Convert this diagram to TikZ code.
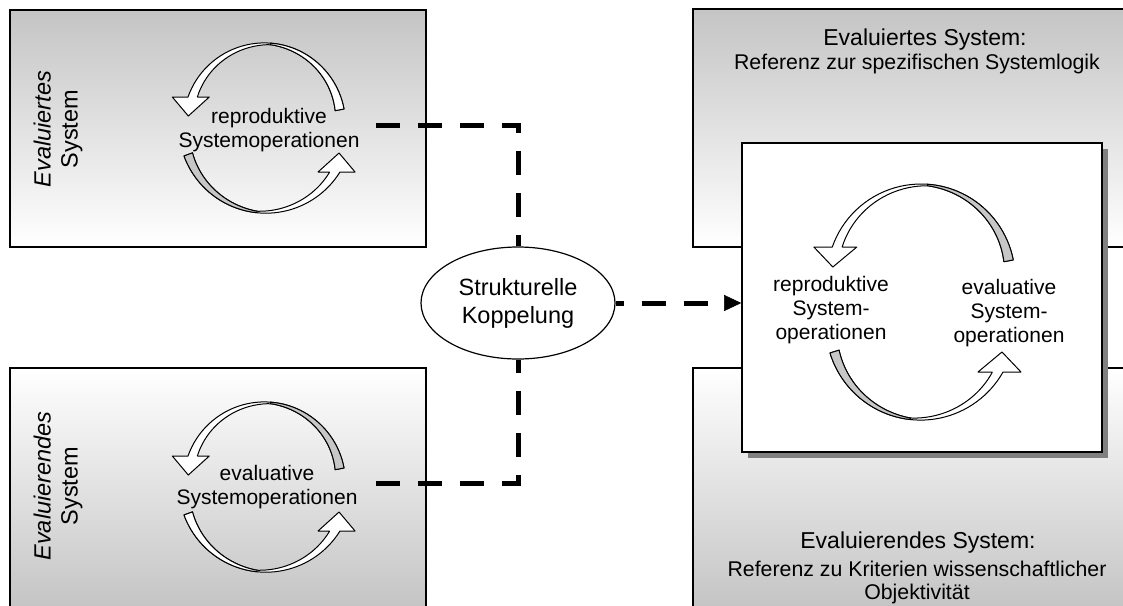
\documentclass[tikz,border=0pt]{standalone}
\usepackage{fontspec}
\setmainfont{Liberation Sans}
\usetikzlibrary{shapes.geometric,arrows.meta,shadows}

\tikzset{
  panel/.style={rectangle, draw=black, line width=1.2pt, inner sep=0pt},
  shadedown/.style={top color=black!23, bottom color=white},
  shadeup/.style={top color=white, bottom color=black!23},
  couple/.style={line width=5pt, dash pattern=on 24pt off 18pt},
  cyclelabel/.style={align=center, font=\fontsize{21}{24}\selectfont, inner sep=0pt},
  sidelabel/.style={align=center, rotate=90, font=\fontsize{23.5}{27}\selectfont, inner sep=0pt},
  titlelabel/.style={inner sep=0pt, font=\fontsize{23}{27}\selectfont},
  sublabel/.style={inner sep=0pt, align=center, font=\fontsize{21.3}{23.5}\selectfont},
  ribbonline/.style={draw=black, line width=1pt, line join=round},
}

% size of the curved block arrows
\def\RBwmax{9}
\def\RBhw{18.5}
\def\RBhl{19}

% curved ribbon arrow:
% #1 cx, #2 cy, #3 outer radius, #4 tail angle, #5 y of the arrowhead base,
% #6 1 = head on the left pointing down, -1 = head on the right pointing up,
% #7 fill of the tail half
\newcommand\ribbon[7]{%
  \pgfmathsetmacro\RBho{-90*(1+(#6))-(#6)*asin(((#5)-(#2))/(#3))}%
  \pgfmathsetmacro\RBhi{-90*(1+(#6))-(#6)*asin(((#5)-(#2))/((#3)-\RBwmax))}%
  \pgfmathsetmacro\RBmid{((#4)+\RBho)/2}%
  \pgfmathsetmacro\RBhalf{abs((#4)-\RBho)/2}%
  \pgfmathsetmacro\RBox{(#1)+(#3)*cos(\RBho)}%
  \pgfmathsetmacro\RBix{(#1)+((#3)-\RBwmax)*cos(\RBhi)}%
  \pgfmathsetmacro\RBbx{(\RBox+\RBix)/2-2*(#6)}%
  \pgfmathsetmacro\RBtx{\RBbx-2.5*(#6)}%
  \pgfmathsetmacro\RBtix{(#1)+((#3)-\RBwmax)*cos(#4)}%
  \pgfmathsetmacro\RBtiy{(#2)+((#3)-\RBwmax)*sin(#4)}%
  % whole arrow, white
  \filldraw[ribbonline, fill=white]
    plot[domain=#4:\RBho, samples=45] ({(#1)+(#3)*cos(\x)},{(#2)+(#3)*sin(\x)})
    -- (\RBox,#5)
    -- ({\RBbx-(#6)*\RBhw},#5) -- (\RBtx,{(#5)+(#6)*\RBhl}) -- ({\RBbx+(#6)*\RBhw},#5)
    -- (\RBix,#5)
    -- plot[domain=\RBhi:#4, samples=45]
       ({(#1)+((#3)-1.5-(\RBwmax-1.5)*min(abs(\x-\RBmid)/\RBhalf,1))*cos(\x)},
        {(#2)+((#3)-1.5-(\RBwmax-1.5)*min(abs(\x-\RBmid)/\RBhalf,1))*sin(\x)})
    -- (\RBtix,\RBtiy) -- cycle;
  % tail half
  \filldraw[ribbonline, fill=#7]
    plot[domain=#4:\RBmid, samples=25] ({(#1)+(#3)*cos(\x)},{(#2)+(#3)*sin(\x)})
    -- plot[domain=\RBmid:#4, samples=25]
       ({(#1)+((#3)-1.5-(\RBwmax-1.5)*min(abs(\x-\RBmid)/\RBhalf,1))*cos(\x)},
        {(#2)+((#3)-1.5-(\RBwmax-1.5)*min(abs(\x-\RBmid)/\RBhalf,1))*sin(\x)})
    -- (\RBtix,\RBtiy) -- cycle;
}

\begin{document}
\begin{tikzpicture}[x=1pt, y=-1pt]
\useasboundingbox (0,0) rectangle (1123,605);
\clip (0,0) rectangle (1123,605);
\fill[white] (0,0) rectangle (1123,605);

% the four system panels
\node[panel, shadedown, minimum width=416pt, minimum height=237pt] (tl) at (218,128.5) {};
\node[panel, shadeup,   minimum width=416pt, minimum height=240pt] (bl) at (218,488) {};
\node[panel, shadedown, minimum width=450pt, minimum height=238pt] (tr) at (918,128) {};
\node[panel, shadeup,   minimum width=450pt, minimum height=240pt] (br) at (918,488) {};

% shared operations box
\node[rectangle, draw=black, line width=1.6pt, fill=white, inner sep=0pt,
      minimum width=360pt, minimum height=309pt,
      drop shadow={shadow xshift=6pt, shadow yshift=-6pt, fill=black!50, opacity=1}]
      (core) at (922,297.5) {};

% structural coupling
\node[ellipse, draw=black, line width=1.2pt, fill=white, inner sep=0pt,
      minimum width=194pt, minimum height=112pt, align=center,
      font=\fontsize{23.5}{28}\selectfont] (sk) at (518,303) {Strukturelle\\Koppelung};

\coordinate (tlend) at (376,125);
\coordinate (blend) at (376,483);
\draw[couple] (tlend) -| (sk.north);
\draw[couple] (blend) -| (sk.south);
\draw[couple, dash phase=16pt,
      -{Triangle[length=17pt, width=16pt, line width=0.5pt]}] (sk.east) -- (sk.east -| core.west);

% labels
\node[sidelabel] (tlname) at (58,129) {\textit{Evaluiertes}\\System};
\node[cyclelabel] (tlops) at (269,130) {reproduktive\\Systemoperationen};
\node[sidelabel] (blname) at (58,486) {\textit{Evaluierendes}\\System};
\node[cyclelabel] (blops) at (267,487) {evaluative\\Systemoperationen};

\node[titlelabel] (trtitle) at (925,40) {Evaluiertes System:};
\node[sublabel] (trsub) at (917,64) {Referenz zur spezifischen Systemlogik};
\node[titlelabel] (brtitle) at (918,543) {Evaluierendes System:};
\node[sublabel] (brsub) at (917,582.5) {Referenz zu Kriterien wissenschaftlicher\\Objektivität};

\node[cyclelabel] (repops) at (831,310) {reproduktive\\System-\\operationen};
\node[cyclelabel] (evalops) at (1009,313) {evaluative\\System-\\operationen};

% cycles of the evaluated and the evaluating system
\ribbon{264.4}{123.9}{81}{-10.6}{97}{1}{white}
\ribbon{265.9}{126}{87.2}{159.9}{172}{-1}{black!22}
\ribbon{264.4}{482.9}{81}{-10.6}{456}{1}{black!22}
\ribbon{265.9}{485}{87.2}{159.9}{531}{-1}{white}

% cycle inside the shared box
\def\RBwmax{9.5}
\def\RBhw{21.5}
\def\RBhl{20}
\ribbon{921}{278}{94}{-11.1}{247}{1}{black!22}
\ribbon{920.6}{325.4}{94.7}{163.1}{372}{-1}{black!22}
\end{tikzpicture}
\end{document}
